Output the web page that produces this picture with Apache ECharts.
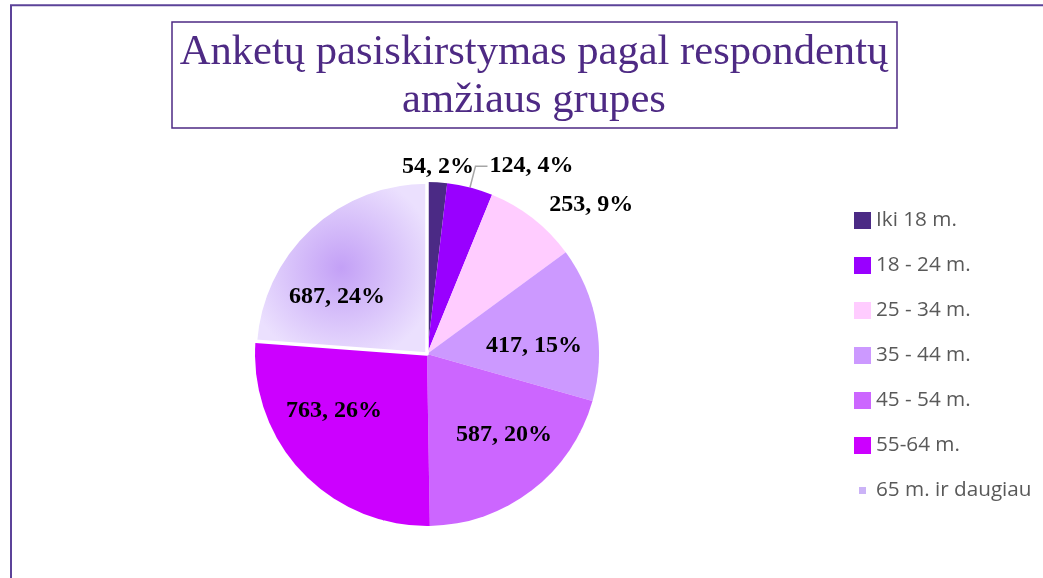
<!DOCTYPE html>
<html>
<head>
<meta charset="utf-8">
<script src="https://cdn.jsdelivr.net/npm/echarts@6/dist/echarts.min.js"></script>
<style>
html, body { margin: 0; padding: 0; background: #fff; }
#chart { width: 1043px; height: 578px; }
</style>
</head>
<body>
<div id="chart"></div>
<script>
var ageGroups = ['Iki 18 m.', '18 - 24 m.', '25 - 34 m.', '35 - 44 m.', '45 - 54 m.', '55-64 m.', '65 m. ir daugiau'];
var counts = [54, 124, 253, 417, 587, 763, 687];
var titleLines = ['Anketų pasiskirstymas pagal respondentų', 'amžiaus grupes'];

var sliceColors = ['#4B2A85', '#9900FF', '#FFCCFF', '#CC99FF', '#CC66FF', '#CC00FF'];
var lastFill = {
    type: 'radial', x: 0.5, y: 0.5, r: 0.55,
    colorStops: [{offset: 0, color: '#C3A0F6'}, {offset: 1, color: '#EBE0FE'}]
};
var purple = '#4E2A84';

var pieCenter = [427, 354];
var pieR = 172;
// label placement: share of radius and turn (deg) from the slice middle, null = library default
var labelFactor = [1.09, null, null, 0.624, 0.65, 0.634, 0.62];
var labelTurn = [0, 0, 0, 5.9, -5.9, 11.8, -14.6];

var total = counts.reduce(function(a, b) { return a + b; }, 0);
function midAngle(i) {
    var before = 0;
    for (var k = 0; k < i; k++) before += counts[k];
    return (before + counts[i] / 2) / total * 2 * Math.PI;
}

var pieData = counts.map(function(v, i) {
    var item = {
        name: ageGroups[i],
        value: v,
        itemStyle: {color: i < 6 ? sliceColors[i] : lastFill}
    };
    if (i === 0) {
        item.label = {position: 'outside'};
        item.labelLine = {show: false};
    }
    if (i === 1) {
        item.label = {position: 'outside', distanceToLabelLine: 2};
        item.labelLine = {show: true, length: 22, length2: 12, lineStyle: {color: '#A6A6A6', width: 1.5}};
    }
    if (i === 2) {
        item.label = {position: 'outside', distanceToLabelLine: 2};
        item.labelLine = {show: false, length: 17, length2: 4};
    }
    if (i === 6) {
        // pulled-out look: white edge round the slice
        item.itemStyle.borderColor = '#fff';
        item.itemStyle.borderWidth = 3.5;
    }
    return item;
});

var legendData = ageGroups.map(function(n, i) {
    if (i < 6) return {name: n};
    return {
        name: n,
        icon: 'path://M0,0h0.01v0.01h-0.01z M17,17h0.01v0.01h-0.01z M4,4h9v9h-9z',
        itemStyle: {color: '#CBB3F7'}
    };
});

var chart = echarts.init(document.getElementById('chart'));
var option = {
    backgroundColor: '#fff',
    animation: false,
    title: {
        text: titleLines.join('\n'),
        left: 526,
        top: 22,
        textAlign: 'center',
        textVerticalAlign: 'top',
        padding: [7, 9, 3, 8],
        borderColor: purple,
        borderWidth: 1.5,
        textStyle: {
            fontFamily: 'Liberation Serif',
            fontWeight: 'normal',
            fontSize: 42.6,
            lineHeight: 48,
            color: purple
        }
    },
    graphic: [{
        type: 'rect',
        silent: true,
        shape: {x: 11, y: 5.3, width: 1100, height: 700},
        style: {fill: 'none', stroke: '#5C4399', lineWidth: 2}
    }],
    legend: {
        orient: 'vertical',
        left: 853,
        top: 210,
        padding: 0,
        itemWidth: 17,
        itemHeight: 17,
        itemGap: 24,
        icon: 'rect',
        data: legendData,
        selectedMode: false,
        textStyle: {
            fontFamily: 'Open Sans',
            fontSize: 20.7,
            lineHeight: 19,
            color: '#595959'
        }
    },
    series: [{
        type: 'pie',
        center: pieCenter,
        radius: pieR,
        startAngle: 90,
        clockwise: true,
        avoidLabelOverlap: false,
        percentPrecision: 0,
        data: pieData,
        label: {
            show: true,
            position: 'inside',
            formatter: '{c}, {d}%',
            fontFamily: 'Liberation Serif',
            fontWeight: 'bold',
            fontSize: 24,
            color: '#000'
        },
        labelLayout: function(p) {
            var f = labelFactor[p.dataIndex];
            if (!f) return {};
            var a = midAngle(p.dataIndex) + labelTurn[p.dataIndex] * Math.PI / 180;
            var d = f * pieR;
            return {
                x: pieCenter[0] + d * Math.sin(a),
                y: pieCenter[1] - d * Math.cos(a),
                align: 'center',
                verticalAlign: 'middle'
            };
        },
        emphasis: {disabled: true}
    }]
};
chart.setOption(option);
window.onresize = chart.resize;
</script>
</body>
</html>
